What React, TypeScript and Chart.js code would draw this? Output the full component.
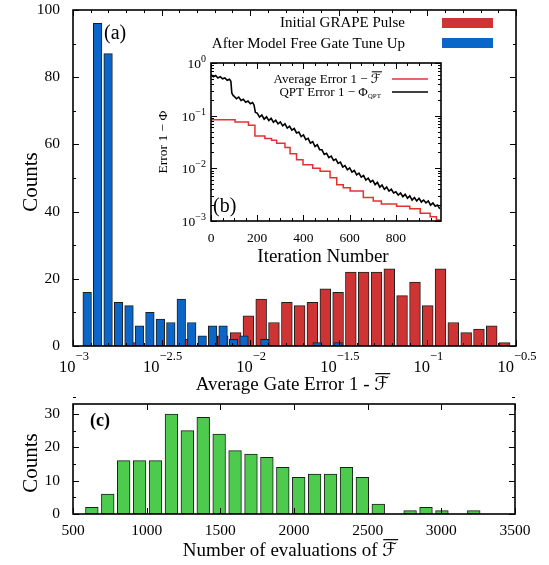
import { useEffect, useRef } from "react";
import { Chart, registerables } from "chart.js";

Chart.register(...registerables);

const FONT = '"Liberation Serif", "DejaVu Serif", "DejaVu Sans", serif';
Chart.defaults.font.family = FONT;
Chart.defaults.color = "#000";

// ---------------- (a) histogram of average gate error (log10 bins) ----------------
const BLUE_LOG_CENTERS = [
  -2.92, -2.861, -2.802, -2.743, -2.684, -2.625, -2.566, -2.507, -2.448, -2.389,
  -2.33, -2.271, -2.212, -2.153, -2.094, -2.035, -1.976, -1.917, -1.858, -1.799,
  -1.74, -1.681, -1.622, -1.563, -1.504,
];
const BLUE_COUNTS = [16, 96, 87, 13, 12, 6, 10, 8, 7, 14, 7, 3, 6, 6, 2, 3, 0, 2, 0, 0, 0, 0, 1, 0, 1];

const RED_LOG_CENTERS = [
  -2.661, -2.588, -2.516, -2.444, -2.371, -2.299, -2.227, -2.155, -2.082, -2.01,
  -1.938, -1.866, -1.793, -1.721, -1.649, -1.576, -1.504, -1.432, -1.36, -1.287,
  -1.215, -1.143, -1.07, -0.998, -0.926, -0.854, -0.781, -0.709, -0.637, -0.564,
];
const RED_COUNTS = [1, 0, 0, 0, 2, 0, 0, 3, 4, 9, 14, 7, 13, 12, 13, 17, 16, 22, 22, 22, 23, 15, 19, 12, 23, 7, 4, 5, 6, 1];

const A_X_TICK_EXPONENTS = [-3, -2.5, -2, -1.5, -1, -0.5];
const A_X_TICK_LABELS = ["\u22123", "\u22122.5", "\u22122", "\u22121.5", "\u22121", "\u22120.5"];
const A_Y_TICKS = [0, 20, 40, 60, 80, 100];
const LEGEND_A = ["Initial GRAPE Pulse", "After Model Free Gate Tune Up"];

// ---------------- (b) inset: error vs iteration ----------------
const QPT_ITER = [
  0, 10, 20, 30, 40, 50, 60, 70, 80, 86, 90, 96, 100, 110, 120, 130, 140, 150, 160, 170, 180, 186, 192,
  200, 210, 220, 230, 240, 250, 260, 270, 280, 290, 300, 310, 320, 330, 340, 350, 360, 370, 380, 390,
  400, 410, 420, 430, 440, 450, 460, 470, 480, 490, 500, 510, 520, 530, 540, 550, 560, 570, 580, 590,
  600, 610, 620, 630, 640, 650, 660, 670, 680, 690, 700, 710, 720, 730, 740, 750, 760, 770, 780, 790,
  800, 810, 820, 830, 840, 850, 860, 870, 880, 890, 900, 910, 920, 930, 940, 950, 960, 970, 980, 990,
];
const QPT_ERR = [
  0.6, 0.55, 0.58, 0.52, 0.55, 0.5, 0.52, 0.47, 0.49, 0.45, 0.27, 0.24, 0.235, 0.21, 0.225, 0.195, 0.205, 0.18, 0.19, 0.168, 0.178, 0.16, 0.115,
  0.112, 0.094, 0.103, 0.086, 0.095, 0.081, 0.089, 0.075, 0.082, 0.07, 0.076, 0.064, 0.07, 0.058, 0.063, 0.053, 0.057, 0.047, 0.049, 0.04,
  0.043, 0.035, 0.037, 0.03, 0.032, 0.026, 0.028, 0.0226, 0.0225, 0.0183, 0.0193, 0.016, 0.0171, 0.0141, 0.015, 0.0124, 0.0131, 0.0106, 0.0113, 0.0094,
  0.0102, 0.0085, 0.0091, 0.0075, 0.0081, 0.0068, 0.0073, 0.006, 0.0065, 0.0055, 0.0059, 0.0049, 0.0054, 0.0044, 0.0048, 0.004, 0.0044, 0.0037, 0.004, 0.0034,
  0.0036, 0.0031, 0.0034, 0.0029, 0.0032, 0.0027, 0.003, 0.0025, 0.0028, 0.0024, 0.0027, 0.0023, 0.0025, 0.0022, 0.0024, 0.002, 0.0022, 0.0019, 0.002, 0.0017,
];
const AVG_ITER = [0, 104, 162, 190, 233, 262, 284, 320, 342, 370, 398, 440, 472, 515, 544, 572, 602, 659, 702, 737, 803, 860, 905, 948, 975, 990];
const AVG_ERR = [
  0.084, 0.076, 0.066, 0.041, 0.037, 0.034, 0.03, 0.025, 0.019, 0.0145, 0.0117, 0.01, 0.0088, 0.0066, 0.0049,
  0.0043, 0.0037, 0.0028, 0.0024, 0.0021, 0.0019, 0.0017, 0.0014, 0.0012, 0.00105, 0.00105,
];
const B_X_TICKS = [0, 200, 400, 600, 800];
const B_Y_EXPONENTS = [0, -1, -2, -3];
const B_Y_TICK_LABELS = ["0", "\u22121", "\u22122", "\u22123"];

// ---------------- (c) histogram of number of evaluations ----------------
const EVAL_CENTERS = [
  628, 736, 844, 952, 1060, 1168, 1276, 1384, 1492, 1600, 1708, 1816, 1924, 2032, 2140, 2248, 2356, 2464,
  2572, 2680, 2788, 2896, 3004, 3112, 3220,
];
const EVAL_COUNTS = [2, 6, 16, 16, 16, 30, 25, 29, 24, 19, 18, 17, 14, 11, 12, 12, 14, 11, 3, 0, 1, 2, 1, 0, 1];
const C_X_TICKS = [500, 1000, 1500, 2000, 2500, 3000, 3500];
const C_Y_TICKS = [0, 10, 20, 30];

// ---------------- styles ----------------
const BLUE = "#0a66c8";
const RED = "#cf3434";
const GREEN = "#4dcb4d";
const EDGE = "#1e1e1e";
const LINE_RED = "#e63030";

type Seg = { t: string; size: number; dy?: number; over?: boolean; bold?: boolean };

function fnt(size: number, bold = false) {
  return `${bold ? "bold " : ""}${size}px ${FONT}`;
}

function drawSegs(ctx: CanvasRenderingContext2D, segs: Seg[], x: number, y: number, align: "left" | "center" | "right") {
  ctx.textAlign = "left";
  ctx.textBaseline = "alphabetic";
  const widths = segs.map((s) => {
    ctx.font = fnt(s.size, s.bold);
    return ctx.measureText(s.t).width;
  });
  const total = widths.reduce((p, w) => p + w, 0);
  let cx = align === "left" ? x : align === "center" ? x - total / 2 : x - total;
  segs.forEach((s, i) => {
    ctx.font = fnt(s.size, s.bold);
    ctx.fillText(s.t, cx, y + (s.dy || 0));
    if (s.over) {
      ctx.save();
      ctx.lineWidth = Math.max(1, s.size / 16);
      ctx.beginPath();
      const oy = y + (s.dy || 0) - s.size * 0.86;
      ctx.moveTo(cx + 1, oy);
      ctx.lineTo(cx + widths[i] + 1, oy);
      ctx.stroke();
      ctx.restore();
    }
    cx += widths[i];
  });
}

function drawRotated(ctx: CanvasRenderingContext2D, segs: Seg[], x: number, y: number) {
  ctx.save();
  ctx.translate(x, y);
  ctx.rotate(-Math.PI / 2);
  drawSegs(ctx, segs, 0, 0, "center");
  ctx.restore();
}

function drawFrame(
  ctx: CanvasRenderingContext2D,
  chart: any,
  xMaj: number[],
  xMin: number[],
  yMaj: number[],
  yMin: number[]
) {
  const a = chart.chartArea;
  const xs = chart.scales.x;
  const ys = chart.scales.y;
  ctx.save();
  ctx.strokeStyle = "#000";
  ctx.lineWidth = 1;
  ctx.beginPath();
  const xt = (v: number, len: number) => {
    const p = Math.round(xs.getPixelForValue(v)) + 0.5;
    ctx.moveTo(p, a.bottom);
    ctx.lineTo(p, a.bottom - len);
    ctx.moveTo(p, a.top);
    ctx.lineTo(p, a.top + len);
  };
  const yt = (v: number, len: number) => {
    const p = Math.round(ys.getPixelForValue(v)) + 0.5;
    ctx.moveTo(a.left, p);
    ctx.lineTo(a.left + len, p);
    ctx.moveTo(a.right, p);
    ctx.lineTo(a.right - len, p);
  };
  xMaj.forEach((v) => xt(v, 6));
  xMin.forEach((v) => xt(v, 3));
  yMaj.forEach((v) => yt(v, 6));
  yMin.forEach((v) => yt(v, 3));
  ctx.stroke();
  ctx.lineWidth = 1.6;
  ctx.strokeRect(a.left, a.top, a.right - a.left, a.bottom - a.top);
  ctx.restore();
}

function fixAxis(size: number, horizontal: boolean) {
  return (s: any) => {
    if (horizontal) s.height = size;
    else s.width = size;
    s.paddingTop = 0;
    s.paddingBottom = 0;
    s.paddingLeft = 0;
    s.paddingRight = 0;
  };
}

function setTicks(values: number[]) {
  return (s: any) => {
    s.ticks = values.map((value) => ({ value }));
  };
}

const plainLabel = (v: any) => String(v);

function configA(): any {
  const xMinor: number[] = [];
  for (let k = 0; k <= 25; k++) {
    const v = -3 + k * 0.1;
    if (!A_X_TICK_EXPONENTS.some((m) => Math.abs(m - v) < 1e-6)) xMinor.push(v);
  }
  const yMinor = A_Y_TICKS.slice(0, -1).map((v, i) => (v + A_Y_TICKS[i + 1]) / 2);
  const plugin = {
    id: "frameA",
    afterDraw(chart: any) {
      const ctx: CanvasRenderingContext2D = chart.ctx;
      const a = chart.chartArea;
      const xs = chart.scales.x;
      drawFrame(ctx, chart, A_X_TICK_EXPONENTS, xMinor, A_Y_TICKS, yMinor);
      ctx.save();
      ctx.fillStyle = "#000";
      ctx.strokeStyle = "#000";
      A_X_TICK_EXPONENTS.forEach((e, i) => {
        drawSegs(ctx, [{ t: "10", size: 16.5 }, { t: A_X_TICK_LABELS[i], size: 12.5, dy: -12 }], xs.getPixelForValue(e) + 1, a.bottom + 26, "center");
      });
      drawSegs(ctx, [{ t: "Average Gate Error 1 - ", size: 19 }, { t: "\u2131", size: 19, over: true }], (a.left + a.right) / 2 - 2, a.bottom + 44, "center");
      drawRotated(ctx, [{ t: "Counts", size: 21 }], a.left - 36, (a.top + a.bottom) / 2 + 4);
      drawSegs(ctx, [{ t: "(a)", size: 20 }], a.left + 31, a.top + 29, "left");
      drawSegs(ctx, [{ t: LEGEND_A[0], size: 15 }], 405, a.top + 17, "right");
      drawSegs(ctx, [{ t: LEGEND_A[1], size: 15 }], 405, a.top + 38, "right");
      ctx.fillStyle = RED;
      ctx.fillRect(442, a.top + 8, 51, 10);
      ctx.fillStyle = BLUE;
      ctx.fillRect(442, a.top + 28, 51, 10);
      ctx.restore();
    },
  };
  return {
    type: "bar",
    data: {
      datasets: [
        {
          label: LEGEND_A[1],
          data: BLUE_LOG_CENTERS.map((x, i) => ({ x, y: BLUE_COUNTS[i] })),
          backgroundColor: BLUE,
          borderColor: EDGE,
          borderWidth: 1,
          borderSkipped: false,
          barThickness: 8.6,
          grouped: false,
          order: 0,
        },
        {
          label: LEGEND_A[0],
          data: RED_LOG_CENTERS.map((x, i) => ({ x, y: RED_COUNTS[i] })),
          backgroundColor: RED,
          borderColor: EDGE,
          borderWidth: 1,
          borderSkipped: false,
          barThickness: 10.8,
          grouped: false,
          order: 1,
        },
      ],
    },
    options: {
      responsive: false,
      animation: false,
      events: [],
      layout: { padding: { top: 10, right: 33, left: 0, bottom: 0 } },
      plugins: { legend: { display: false }, tooltip: { enabled: false } },
      scales: {
        x: {
          type: "linear",
          min: -3,
          max: -0.5,
          offset: false,
          grid: { display: false },
          border: { display: false },
          ticks: { display: false },
          afterBuildTicks: setTicks(A_X_TICK_EXPONENTS),
          afterFit: fixAxis(49, true),
        },
        y: {
          type: "linear",
          min: 0,
          max: 100,
          grid: { display: false },
          border: { display: false },
          ticks: { font: { family: FONT, size: 15.5 }, color: "#000", padding: 5, callback: plainLabel },
          afterBuildTicks: setTicks(A_Y_TICKS),
          afterFit: fixAxis(73, false),
        },
      },
    },
    plugins: [plugin],
  };
}

function configB(): any {
  const xMinor: number[] = [];
  for (let v = 50; v < 1000; v += 50) if (!B_X_TICKS.includes(v)) xMinor.push(v);
  const yMaj = B_Y_EXPONENTS.map((e) => Math.pow(10, e));
  const yMinor: number[] = [];
  B_Y_EXPONENTS.slice(1).forEach((e) => {
    for (let m = 2; m <= 9; m++) yMinor.push(m * Math.pow(10, e));
  });
  const plugin = {
    id: "frameB",
    afterDraw(chart: any) {
      const ctx: CanvasRenderingContext2D = chart.ctx;
      const a = chart.chartArea;
      const ys = chart.scales.y;
      drawFrame(ctx, chart, B_X_TICKS, xMinor, yMaj, yMinor);
      ctx.save();
      ctx.fillStyle = "#000";
      ctx.strokeStyle = "#000";
      B_Y_EXPONENTS.forEach((e, i) => {
        drawSegs(ctx, [{ t: "10", size: 13.5 }, { t: B_Y_TICK_LABELS[i], size: 10, dy: -6 }], a.left - 5, ys.getPixelForValue(Math.pow(10, e)) + 5, "right");
      });
      drawRotated(ctx, [{ t: "Error 1 \u2212 \u03A6", size: 13.5 }], a.left - 44, (a.top + a.bottom) / 2);
      drawSegs(ctx, [{ t: "Iteration Number", size: 19 }], (a.left + a.right) / 2 - 3, a.bottom + 41, "center");
      drawSegs(ctx, [{ t: "(b)", size: 20 }], a.left + 2, a.bottom - 9, "left");
      drawSegs(ctx, [{ t: "Average Error 1 \u2212 ", size: 13 }, { t: "\u2131", size: 13, over: true }], a.right - 60, a.top + 20, "right");
      drawSegs(ctx, [{ t: "QPT Error 1 \u2212 \u03A6", size: 13 }, { t: "QPT", size: 7, dy: 2 }], a.right - 60, a.top + 33, "right");
      ctx.lineWidth = 1.6;
      ctx.strokeStyle = LINE_RED;
      ctx.beginPath();
      ctx.moveTo(a.right - 49, a.top + 16);
      ctx.lineTo(a.right - 13, a.top + 16);
      ctx.stroke();
      ctx.strokeStyle = "#000";
      ctx.beginPath();
      ctx.moveTo(a.right - 49, a.top + 29);
      ctx.lineTo(a.right - 13, a.top + 29);
      ctx.stroke();
      ctx.restore();
    },
  };
  return {
    type: "line",
    data: {
      datasets: [
        {
          label: "Average Error",
          data: AVG_ITER.map((x, i) => ({ x, y: AVG_ERR[i] })),
          borderColor: LINE_RED,
          borderWidth: 1.5,
          pointRadius: 0,
          stepped: "before",
          fill: false,
        },
        {
          label: "QPT Error",
          data: QPT_ITER.map((x, i) => ({ x, y: QPT_ERR[i] })),
          borderColor: "#000",
          borderWidth: 1.6,
          pointRadius: 0,
          tension: 0,
          fill: false,
        },
      ],
    },
    options: {
      responsive: false,
      animation: false,
      events: [],
      layout: { padding: { top: 8, right: 9, left: 0, bottom: 0 } },
      plugins: { legend: { display: false }, tooltip: { enabled: false } },
      scales: {
        x: {
          type: "linear",
          min: 0,
          max: 995,
          grid: { display: false },
          border: { display: false },
          ticks: { font: { family: FONT, size: 13.5 }, color: "#000", padding: 1, maxRotation: 0, callback: plainLabel },
          afterBuildTicks: setTicks(B_X_TICKS),
          afterFit: fixAxis(49, true),
        },
        y: {
          type: "logarithmic",
          min: 0.001,
          max: 1,
          grid: { display: false },
          border: { display: false },
          ticks: { display: false },
          afterFit: fixAxis(71, false),
        },
      },
    },
    plugins: [plugin],
  };
}

function configC(): any {
  const yMinor = C_Y_TICKS.map((v) => v + 5);
  const plugin = {
    id: "frameC",
    afterDraw(chart: any) {
      const ctx: CanvasRenderingContext2D = chart.ctx;
      const a = chart.chartArea;
      drawFrame(ctx, chart, C_X_TICKS, [], C_Y_TICKS, yMinor);
      ctx.save();
      ctx.fillStyle = "#000";
      ctx.strokeStyle = "#000";
      drawRotated(ctx, [{ t: "Counts", size: 21 }], a.left - 36, (a.top + a.bottom) / 2 + 4);
      drawSegs(ctx, [{ t: "Number of evaluations of ", size: 19 }, { t: "\u2131", size: 19, over: true }], (a.left + a.right) / 2 - 4, a.bottom + 42, "center");
      drawSegs(ctx, [{ t: "(c)", size: 18, bold: true }], a.left + 17, a.top + 22, "left");
      ctx.restore();
    },
  };
  return {
    type: "bar",
    data: {
      datasets: [
        {
          label: "Evaluations",
          data: EVAL_CENTERS.map((x, i) => ({ x, y: EVAL_COUNTS[i] })),
          backgroundColor: GREEN,
          borderColor: EDGE,
          borderWidth: 1,
          borderSkipped: false,
          barThickness: 12.7,
          grouped: false,
        },
      ],
    },
    options: {
      responsive: false,
      animation: false,
      events: [],
      layout: { padding: { top: 14, right: 34, left: 0, bottom: 0 } },
      plugins: { legend: { display: false }, tooltip: { enabled: false } },
      scales: {
        x: {
          type: "linear",
          min: 500,
          max: 3500,
          offset: false,
          grid: { display: false },
          border: { display: false },
          ticks: { font: { family: FONT, size: 15.5 }, color: "#000", padding: 0, maxRotation: 0, callback: plainLabel },
          afterBuildTicks: setTicks(C_X_TICKS),
          afterFit: fixAxis(51, true),
        },
        y: {
          type: "linear",
          min: 0,
          max: 33,
          grid: { display: false },
          border: { display: false },
          ticks: { font: { family: FONT, size: 15.5 }, color: "#000", padding: 5, callback: plainLabel },
          afterBuildTicks: setTicks(C_Y_TICKS),
          afterFit: fixAxis(73, false),
        },
      },
    },
    plugins: [plugin],
  };
}

export default function App() {
  const refA = useRef<HTMLCanvasElement>(null);
  const refB = useRef<HTMLCanvasElement>(null);
  const refC = useRef<HTMLCanvasElement>(null);

  useEffect(() => {
    const charts = [
      new Chart(refA.current!, configA()),
      new Chart(refC.current!, configC()),
      new Chart(refB.current!, configB()),
    ];
    return () => charts.forEach((c) => c.destroy());
  }, []);

  return (
    <div style={{ position: "fixed", left: 0, top: 0, width: 549, height: 565, background: "#fff", overflow: "hidden" }}>
      <canvas ref={refA} width={549} height={395} style={{ position: "absolute", left: 0, top: 0 }} />
      <canvas ref={refC} width={549} height={175} style={{ position: "absolute", left: 0, top: 390 }} />
      <canvas ref={refB} width={310} height={215} style={{ position: "absolute", left: 140, top: 55 }} />
    </div>
  );
}
